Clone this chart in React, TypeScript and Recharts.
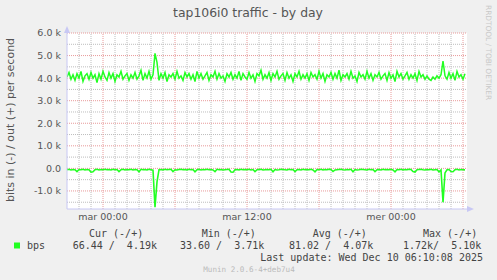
import React from "react";
import { ComposedChart, Line, XAxis, YAxis, ReferenceLine } from "recharts";

// 10-minute samples, starting at hour -3 (lun 21:00) relative to mar 00:00
const startHour = -3;
const stepHour = 1 / 6;

const outBps = [
  4050, 4250, 3950, 4150, 3900, 4200, 4000, 4300, 3850, 4100,
  4200, 3950, 4250, 4000, 4150, 3800, 4200, 3950, 4300, 4050,
  3900, 4250, 4000, 4200, 3850, 4150, 4050, 4300, 3950, 4100,
  4200, 3900, 4150, 4000, 4250, 3950, 4100, 4350, 3900, 4200,
  4000, 4300, 3950, 4150, 5100, 4700, 3900, 4200, 4000, 4250,
  3850, 4150, 4050, 4200, 3950, 4300, 4000, 4100, 3900, 4250,
  4050, 4200, 3950, 4150, 3850, 4300, 4000, 4200, 3950, 4100,
  4250, 3900, 4150, 4050, 4300, 3950, 4200, 4000, 4100, 3850,
  4200, 4050, 4250, 3950, 4150, 4000, 4300, 3900, 4200, 4050,
  3950, 4250, 4000, 4150, 3850, 4200, 4100, 4350, 3950, 4150,
  4000, 4250, 3900, 4200, 4050, 4300, 3950, 4100, 4200, 3900,
  4250, 4000, 4150, 3850, 4200, 4050, 4300, 3950, 4150, 4000,
  4200, 3900, 4250, 4050, 4150, 3950, 4300, 4000, 4200, 3850,
  4150, 4050, 4250, 3950, 4200, 4000, 4350, 3900, 4150, 4050,
  4200, 3950, 4300, 4000, 4100, 3850, 4250, 4050, 4150, 3950,
  4300, 4000, 4200, 3900, 4150, 4050, 4250, 3950, 4100, 4200,
  3900, 4250, 4000, 4150, 3850, 4300, 4050, 4200, 3950, 4100,
  4250, 3950, 4150, 4000, 4200, 3900, 4300, 4050, 4150, 3950,
  4100, 3950, 3900, 4050, 3950, 4100, 4000, 4150, 4750, 4100,
  3950, 4250, 4000, 4200, 3900, 4300, 4050, 4150, 3950, 4190,
];

const inBps = [
  -60, -40, -70, -50, -60, -140, -50, -60, -40, -70,
  -50, -60, -170, -150, -60, -40, -70, -50, -60, -40,
  -60, -50, -70, -40, -60, -50, -140, -60, -40, -70,
  -50, -60, -40, -70, -50, -60, -150, -40, -60, -50,
  -70, -40, -60, -80, -1720, -600, -60, -50, -70, -40,
  -60, -50, -40, -140, -60, -70, -50, -40, -60, -50,
  -70, -40, -60, -50, -150, -60, -40, -70, -50, -60,
  -40, -60, -50, -70, -140, -40, -60, -50, -70, -60,
  -50, -40, -160, -170, -60, -50, -70, -40, -60, -50,
  -60, -40, -70, -50, -140, -60, -50, -40, -70, -60,
  -50, -60, -40, -150, -50, -70, -60, -40, -50, -60,
  -70, -40, -60, -50, -140, -60, -50, -70, -40, -60,
  -50, -60, -40, -70, -150, -50, -60, -40, -70, -50,
  -60, -40, -50, -140, -70, -60, -50, -40, -60, -70,
  -50, -60, -40, -150, -50, -70, -60, -40, -50, -60,
  -70, -40, -60, -50, -140, -60, -50, -70, -40, -60,
  -50, -60, -40, -70, -150, -50, -60, -40, -70, -50,
  -60, -40, -50, -140, -160, -60, -50, -40, -60, -70,
  -50, -60, -40, -70, -60, -50, -150, -70, -1500, -200,
  -60, -50, -140, -150, -60, -40, -70, -50, -60, -66,
];

const xTicks = [0, 12, 24];
const xTickLabels = ["mar 00:00", "mar 12:00", "mer 00:00"];
const majorHours = [0, 6, 12, 18, 24, 30];
const minorHours = [-2, -1, 1, 2, 3, 4, 5, 7, 8, 9, 10, 11, 13, 14, 15, 16, 17, 19, 20, 21, 22, 23, 25, 26, 27, 28, 29];
const yTicks = [-1000, 0, 1000, 2000, 3000, 4000, 5000, 6000];
const minorY = [-1500, -500, 500, 1500, 2500, 3500, 4500, 5500];

const legendHeaders = ["Cur (-/+)", "Min (-/+)", "Avg (-/+)", "Max (-/+)"];
const legendValues = ["66.44 /  4.19k", "33.60 /  3.71k", "81.02 /  4.07k", "1.72k/  5.10k"];

const data = outBps.map((v, i) => ({ h: startHour + i * stepHour, out: v, inn: inBps[i] }));

const GREEN = "#22ff22";
const AXIS = "#c8c8f4";
const MINOR = "#bdbdbd";
const MAJOR = "#e89a9a";

const fmtY = (v: number) => (v === 0 ? "0.0" : (v / 1000).toFixed(1) + " k");
const fmtX = (v: number) => xTickLabels[xTicks.indexOf(v)] ?? "";

const headerX = [89, 201.7, 312.7, 423];
const valueX = [72.7, 180, 289, 403];

export default function App() {
  return (
    <div style={{ position: "absolute", left: 0, top: 0, width: 497, height: 280, background: "#f0f0f0" }}>
      <div style={{ position: "absolute", left: 67, top: 33, width: 400, height: 176, background: "#ffffff" }} />
      <div style={{ position: "absolute", left: 0, top: 0 }}>
        <ComposedChart width={497} height={280} data={data} margin={{ top: 33, right: 30, bottom: 51, left: 7 }}>
          <XAxis
            dataKey="h"
            type="number"
            domain={[-3, 30.333]}
            ticks={xTicks}
            tickFormatter={fmtX}
            allowDataOverflow
            axisLine={{ stroke: AXIS }}
            tickLine={false}
            tickSize={0}
            tickMargin={4}
            height={20}
            tick={{ fill: "#555", fontSize: 9.5, fontFamily: "DejaVu Sans" }}
          />
          <YAxis
            type="number"
            domain={[-1800, 6000]}
            ticks={yTicks}
            tickFormatter={fmtY}
            allowDataOverflow
            axisLine={{ stroke: AXIS }}
            tickLine={false}
            tickSize={0}
            tickMargin={6}
            width={60}
            tick={{ fill: "#555", fontSize: 9.5, fontFamily: "DejaVu Sans" }}
          />
          {minorY.map((v) => (
            <ReferenceLine key={"my" + v} y={v} stroke={MINOR} strokeDasharray="1 1" />
          ))}
          {minorHours.map((v) => (
            <ReferenceLine key={"mx" + v} x={v} stroke={MINOR} strokeDasharray="1 1" />
          ))}
          {yTicks.map((v) => (
            <ReferenceLine key={"My" + v} y={v} stroke={MAJOR} strokeDasharray="1 1" />
          ))}
          {majorHours.map((v) => (
            <ReferenceLine key={"Mx" + v} x={v} stroke={MAJOR} strokeDasharray="1 1" />
          ))}
          <Line dataKey="inn" stroke={GREEN} strokeWidth={1.6} dot={false} isAnimationActive={false} type="linear" />
          <Line dataKey="out" stroke={GREEN} strokeWidth={1.5} dot={false} isAnimationActive={false} type="linear" />
        </ComposedChart>
      </div>
      <svg
        width={497}
        height={280}
        style={{ position: "absolute", left: 0, top: 0, pointerEvents: "none" }}
      >
        <polygon points="64,33 70,33 67,26" fill={AXIS} />
        <polygon points="467,206 467,212 474,209" fill={AXIS} />
        <text x={248} y={17} textAnchor="middle" fontFamily="DejaVu Sans" fontSize={12.4} fill="#555">
          tap106i0 traffic - by day
        </text>
        <text
          x={14}
          y={120}
          textAnchor="middle"
          fontFamily="DejaVu Sans"
          fontSize={11}
          fill="#555"
          transform="rotate(-90 14 120)"
        >
          bits in (-) / out (+) per second
        </text>
        <text
          x={486}
          y={5}
          fontFamily="DejaVu Sans"
          fontSize={7.4}
          fill="#c8c8c8"
          transform="rotate(90 486 5)"
        >
          RRDTOOL / TOBI OETIKER
        </text>
        <rect x={14} y={242.5} width={6} height={6} fill={GREEN} />
        <text x={27} y={249} fontFamily="DejaVu Sans Mono" fontSize={10} fill="#444">
          bps
        </text>
        {legendHeaders.map((t, i) => (
          <text key={t} x={headerX[i]} y={236.5} fontFamily="DejaVu Sans Mono" fontSize={10} fill="#444" style={{ whiteSpace: "pre" }}>
            {t}
          </text>
        ))}
        {legendValues.map((t, i) => (
          <text key={t} x={valueX[i]} y={249} fontFamily="DejaVu Sans Mono" fontSize={10} fill="#444" style={{ whiteSpace: "pre" }}>
            {t}
          </text>
        ))}
        <text x={483} y={260.5} textAnchor="end" fontFamily="DejaVu Sans Mono" fontSize={10} fill="#444" style={{ whiteSpace: "pre" }}>
          Last update: Wed Dec 10 06:10:08 2025
        </text>
        <text x={249} y={271.5} textAnchor="middle" fontFamily="DejaVu Sans Mono" fontSize={7.6} fill="#bbb">
          Munin 2.0.6-4+deb7u4
        </text>
      </svg>
    </div>
  );
}
